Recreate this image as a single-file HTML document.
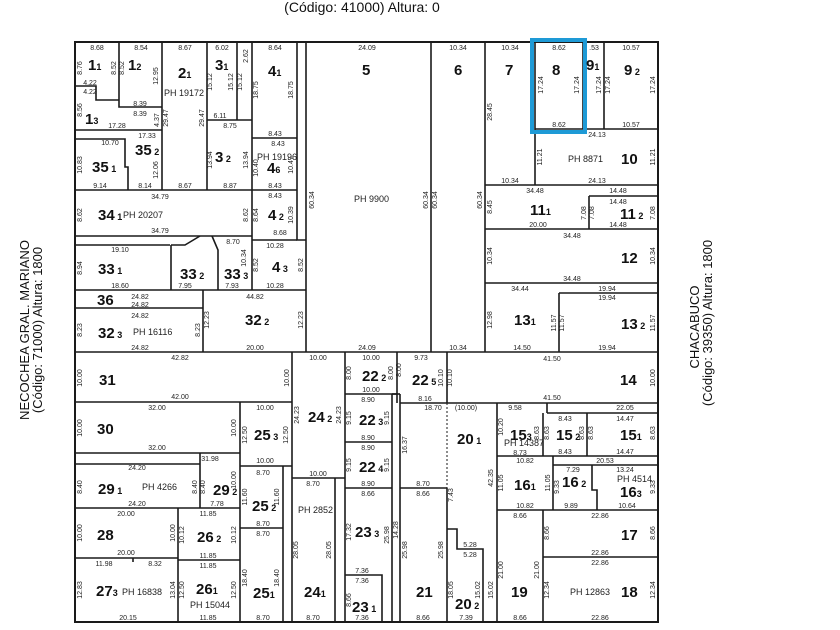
<!DOCTYPE html>
<html><head><meta charset="utf-8"><style>
html,body{margin:0;padding:0;background:#fff;width:840px;height:630px;overflow:hidden}
svg{display:block}
.l{stroke:#1a1a1a;stroke-width:1.6;fill:none}
.b{font-family:"Liberation Sans Narrow","Liberation Sans",sans-serif;font-weight:bold;font-size:15px;fill:#111}
.s{font-size:9px}
.d{font-family:"Liberation Sans Narrow","Liberation Sans",sans-serif;font-size:7px;fill:#222}
.p{font-family:"Liberation Sans Narrow","Liberation Sans",sans-serif;font-size:9px;fill:#222}
.t{font-family:"Liberation Sans Narrow","Liberation Sans",sans-serif;font-size:14px;fill:#111}
.side{font-family:"Liberation Sans",sans-serif;font-size:13px;fill:#111}
</style></head><body>
<svg width="840" height="630" viewBox="0 0 840 630" xmlns="http://www.w3.org/2000/svg">
<text class="t" x="362" y="12" text-anchor="middle">(Código: 41000) Altura: 0</text>
<text class="side" transform="translate(29,330) rotate(-90)" text-anchor="middle">NECOCHEA GRAL. MARIANO</text>
<text class="side" transform="translate(42,330) rotate(-90)" text-anchor="middle">(Código: 71000) Altura: 1800</text>
<text class="side" transform="translate(699,327) rotate(-90)" text-anchor="middle">CHACABUCO</text>
<text class="side" transform="translate(712,323) rotate(-90)" text-anchor="middle">(Código: 39350) Altura: 1800</text>

<g class="l">
<rect x="75" y="42" width="583" height="580" stroke-width="2"/>
<!-- top-left block -->
<path d="M119 42V107H162"/>
<path d="M75 86H96V100H119"/>
<path d="M75 130H162"/>
<path d="M162 42V190"/>
<path d="M207 42V190"/>
<path d="M237 42V120"/>
<path d="M207 120H252"/>
<path d="M252 42V290"/>
<path d="M252 138H297"/>
<path d="M297 42V240H306"/>
<path d="M75 139H125V167H128V190"/>
<path d="M75 190H297"/>
<path d="M75 236H212"/>
<path d="M212 236H252"/>
<path d="M75 245H170"/>
<path d="M171 245V290"/>
<path d="M171 245H185L200 236"/>
<path d="M212 236L218 250V290"/>
<path d="M252 240H297"/>
<path d="M75 290H306"/>
<path d="M75 308H203"/>
<path d="M203 290V352"/>
<path d="M306 42V352"/>
<path d="M431 42V352"/>
<path d="M485 42V352"/>
<path d="M535 42V185"/>
<path d="M583 42V129"/>
<path d="M604 42V129"/>
<path d="M535 129H658"/>
<path d="M485 185H658"/>
<path d="M589 196V229"/>
<path d="M589 196H658"/>
<path d="M485 229H658"/>
<path d="M485 283H658"/>
<path d="M559 293V352"/>
<path d="M559 293H658"/>
<path d="M75 352H658"/>
<!-- bottom-left -->
<path d="M75 402H292"/>
<path d="M292 352V622"/>
<path d="M345 352V622"/>
<path d="M292 478H345"/>
<path d="M335 478V622"/>
<path d="M240 402V622"/>
<path d="M75 453H240"/>
<path d="M240 466H292"/>
<path d="M75 464H200"/>
<path d="M200 453V508"/>
<path d="M75 508H240"/>
<path d="M283 466V622"/>
<path d="M240 528H283"/>
<path d="M178 508V622"/>
<path d="M75 558H178"/>
<path d="M178 560H240"/>
<path d="M133 558V562"/>
<!-- bottom-right -->
<path d="M345 394H397"/>
<path d="M397 352V403"/>
<path d="M392 394V622"/>
<path d="M400 394V622"/>
<path d="M392 394H400"/>
<path d="M400 403H658"/>
<path d="M447 352V403"/>
<path d="M345 442H392"/>
<path d="M345 488H392"/>
<path d="M345 575H382V622"/>
<path d="M400 488H447"/>
<path d="M447 488V622"/>
<path d="M447 529H457V549H483V622"/>
<path d="M497 403V622"/>
<path d="M547 403V413"/>
<path d="M547 413H658"/>
<path d="M543 413V456"/>
<path d="M587 413V456"/>
<path d="M497 456H658"/>
<path d="M553 456V510"/>
<path d="M553 465H658"/>
<path d="M592 465V490H597V510"/>
<path d="M497 510H658"/>
<path d="M543 510V622"/>
<path d="M543 557H658"/>
</g>
<path d="M447 403V488" stroke="#1a1a1a" stroke-width="1" stroke-dasharray="2,2" fill="none"/>
<rect x="532" y="40" width="53" height="92" fill="none" stroke="#1e9ad6" stroke-width="4"/>

<!-- lot labels -->
<g class="b">
<text x="88" y="70">1<tspan class="s">1</tspan></text>
<text x="128" y="70">1<tspan class="s">2</tspan></text>
<text x="178" y="78">2<tspan class="s">1</tspan></text>
<text x="215" y="70">3<tspan class="s">1</tspan></text>
<text x="268" y="76">4<tspan class="s">1</tspan></text>
<text x="85" y="124">1<tspan class="s">3</tspan></text>
<text x="92" y="172">35<tspan class="s"> 1</tspan></text>
<text x="135" y="155">35<tspan class="s"> 2</tspan></text>
<text x="215" y="162">3<tspan class="s"> 2</tspan></text>
<text x="267" y="173">4<tspan class="s">6</tspan></text>
<text x="98" y="220">34<tspan class="s"> 1</tspan></text>
<text x="268" y="220">4<tspan class="s"> 2</tspan></text>
<text x="98" y="274">33<tspan class="s"> 1</tspan></text>
<text x="180" y="279">33<tspan class="s"> 2</tspan></text>
<text x="224" y="279">33<tspan class="s"> 3</tspan></text>
<text x="272" y="272">4<tspan class="s"> 3</tspan></text>
<text x="97" y="305">36</text>
<text x="98" y="338">32<tspan class="s"> 3</tspan></text>
<text x="245" y="325">32<tspan class="s"> 2</tspan></text>
<text x="362" y="75">5</text>
<text x="454" y="75">6</text>
<text x="505" y="75">7</text>
<text x="552" y="75">8</text>
<text x="586" y="70">9<tspan class="s">1</tspan></text>
<text x="624" y="75">9<tspan class="s"> 2</tspan></text>
<text x="621" y="164">10</text>
<text x="530" y="215">11<tspan class="s">1</tspan></text>
<text x="620" y="219">11<tspan class="s"> 2</tspan></text>
<text x="621" y="263">12</text>
<text x="514" y="325">13<tspan class="s">1</tspan></text>
<text x="621" y="329">13<tspan class="s"> 2</tspan></text>
<text x="99" y="385">31</text>
<text x="97" y="434">30</text>
<text x="254" y="440">25<tspan class="s"> 3</tspan></text>
<text x="308" y="422">24<tspan class="s"> 2</tspan></text>
<text x="98" y="494">29<tspan class="s"> 1</tspan></text>
<text x="213" y="495">29<tspan class="s"> 2</tspan></text>
<text x="252" y="511">25<tspan class="s"> 2</tspan></text>
<text x="97" y="540">28</text>
<text x="197" y="542">26<tspan class="s"> 2</tspan></text>
<text x="96" y="596">27<tspan class="s">3</tspan></text>
<text x="196" y="594">26<tspan class="s">1</tspan></text>
<text x="253" y="598">25<tspan class="s">1</tspan></text>
<text x="304" y="597">24<tspan class="s">1</tspan></text>
<text x="362" y="381">22<tspan class="s"> 2</tspan></text>
<text x="412" y="385">22<tspan class="s"> 5</tspan></text>
<text x="620" y="385">14</text>
<text x="359" y="425">22<tspan class="s"> 3</tspan></text>
<text x="359" y="472">22<tspan class="s"> 4</tspan></text>
<text x="355" y="537">23<tspan class="s"> 3</tspan></text>
<text x="352" y="612">23<tspan class="s"> 1</tspan></text>
<text x="457" y="444">20<tspan class="s"> 1</tspan></text>
<text x="510" y="440">15<tspan class="s">3</tspan></text>
<text x="556" y="440">15<tspan class="s"> 2</tspan></text>
<text x="620" y="440">15<tspan class="s">1</tspan></text>
<text x="514" y="490">16<tspan class="s">1</tspan></text>
<text x="562" y="487">16<tspan class="s"> 2</tspan></text>
<text x="620" y="497">16<tspan class="s">3</tspan></text>
<text x="621" y="540">17</text>
<text x="416" y="597">21</text>
<text x="455" y="609">20<tspan class="s"> 2</tspan></text>
<text x="511" y="597">19</text>
<text x="621" y="597">18</text>
</g>

<!-- PH labels -->
<g class="p">
<text x="164" y="96">PH 19172</text>
<text x="257" y="160">PH 19196</text>
<text x="123" y="218">PH 20207</text>
<text x="133" y="335">PH 16116</text>
<text x="354" y="202">PH 9900</text>
<text x="568" y="162">PH 8871</text>
<text x="142" y="490">PH 4266</text>
<text x="298" y="513">PH 2852</text>
<text x="122" y="595">PH 16838</text>
<text x="190" y="608">PH 15044</text>
<text x="504" y="446">PH 14387</text>
<text x="617" y="482">PH 4514</text>
<text x="570" y="595">PH 12863</text>
</g>

<!-- dimensions (horizontal) -->
<g class="d" text-anchor="middle">
<text x="97" y="50">8.68</text><text x="141" y="50">8.54</text><text x="185" y="50">8.67</text><text x="222" y="50">6.02</text><text x="275" y="50">8.64</text>
<text x="367" y="50">24.09</text><text x="458" y="50">10.34</text><text x="510" y="50">10.34</text><text x="559" y="50">8.62</text><text x="594" y="50">.53</text><text x="631" y="50">10.57</text>
<text x="140" y="106">8.39</text><text x="140" y="116">8.39</text><text x="117" y="128">17.28</text><text x="90" y="85">4.22</text><text x="90" y="94">4.22</text>
<text x="220" y="118">6.11</text><text x="230" y="128">8.75</text><text x="275" y="136">8.43</text><text x="278" y="146">8.43</text>
<text x="110" y="145">10.70</text><text x="147" y="138">17.33</text><text x="100" y="188">9.14</text><text x="145" y="188">8.14</text><text x="185" y="188">8.67</text><text x="230" y="188">8.87</text><text x="275" y="188">8.43</text><text x="275" y="198">8.43</text>
<text x="160" y="199">34.79</text><text x="160" y="233">34.79</text><text x="280" y="235">8.68</text>
<text x="120" y="252">19.10</text><text x="120" y="288">18.60</text><text x="185" y="288">7.95</text><text x="232" y="288">7.93</text><text x="233" y="244">8.70</text><text x="275" y="248">10.28</text><text x="275" y="288">10.28</text>
<text x="140" y="299">24.82</text><text x="140" y="307">24.82</text><text x="140" y="318">24.82</text><text x="140" y="350">24.82</text><text x="255" y="299">44.82</text><text x="255" y="350">20.00</text>
<text x="367" y="350">24.09</text><text x="458" y="350">10.34</text><text x="510" y="183">10.34</text><text x="559" y="127">8.62</text><text x="631" y="127">10.57</text><text x="597" y="137">24.13</text><text x="597" y="183">24.13</text>
<text x="535" y="193">34.48</text><text x="538" y="227">20.00</text><text x="618" y="193">14.48</text><text x="618" y="204">14.48</text><text x="618" y="227">14.48</text>
<text x="572" y="238">34.48</text><text x="572" y="281">34.48</text><text x="520" y="291">34.44</text><text x="522" y="350">14.50</text><text x="607" y="291">19.94</text><text x="607" y="300">19.94</text><text x="607" y="350">19.94</text>
<text x="180" y="360">42.82</text><text x="180" y="399">42.00</text><text x="157" y="410">32.00</text><text x="157" y="450">32.00</text><text x="265" y="410">10.00</text><text x="265" y="463">10.00</text>
<text x="318" y="360">10.00</text><text x="318" y="476">10.00</text><text x="371" y="360">10.00</text><text x="371" y="392">10.00</text><text x="421" y="360">9.73</text><text x="425" y="401">8.16</text>
<text x="552" y="361">41.50</text><text x="552" y="400">41.50</text>
<text x="137" y="470">24.20</text><text x="137" y="506">24.20</text><text x="217" y="506">7.78</text><text x="210" y="461">31.98</text>
<text x="263" y="475">8.70</text><text x="263" y="526">8.70</text><text x="263" y="536">8.70</text><text x="263" y="620">8.70</text>
<text x="126" y="516">20.00</text><text x="126" y="555">20.00</text><text x="208" y="516">11.85</text><text x="208" y="558">11.85</text><text x="208" y="568">11.85</text><text x="208" y="620">11.85</text>
<text x="104" y="566">11.98</text><text x="155" y="566">8.32</text><text x="128" y="620">20.15</text><text x="313" y="486">8.70</text><text x="313" y="620">8.70</text>
<text x="368" y="402">8.90</text><text x="368" y="440">8.90</text><text x="368" y="450">8.90</text><text x="368" y="486">8.90</text><text x="368" y="496">8.66</text><text x="362" y="573">7.36</text><text x="362" y="583">7.36</text><text x="362" y="620">7.36</text>
<text x="433" y="410">18.70</text><text x="423" y="486">8.70</text><text x="423" y="496">8.66</text><text x="423" y="620">8.66</text><text x="466" y="410">(10.00)</text><text x="470" y="547">5.28</text><text x="470" y="557">5.28</text><text x="466" y="620">7.39</text>
<text x="515" y="410">9.58</text><text x="520" y="455">8.73</text><text x="565" y="421">8.43</text><text x="565" y="454">8.43</text><text x="625" y="410">22.05</text><text x="625" y="421">14.47</text><text x="625" y="454">14.47</text>
<text x="525" y="463">10.82</text><text x="525" y="508">10.82</text><text x="573" y="472">7.29</text><text x="571" y="508">9.89</text><text x="605" y="463">20.53</text><text x="625" y="472">13.24</text><text x="627" y="508">10.64</text>
<text x="520" y="518">8.66</text><text x="520" y="620">8.66</text><text x="600" y="518">22.86</text><text x="600" y="555">22.86</text><text x="600" y="565">22.86</text><text x="600" y="620">22.86</text>
</g>
<!-- dimensions (vertical) -->
<g class="d" text-anchor="middle">
<text transform="translate(82,68) rotate(-90)">8.76</text><text transform="translate(116,68) rotate(-90)">8.52</text><text transform="translate(124,68) rotate(-90)">8.52</text><text transform="translate(158,76) rotate(-90)">12.95</text>
<text transform="translate(82,110) rotate(-90)">8.56</text><text transform="translate(159,120) rotate(-90)">4.37</text><text transform="translate(168,118) rotate(-90)">29.47</text><text transform="translate(204,118) rotate(-90)">29.47</text>
<text transform="translate(212,82) rotate(-90)">15.12</text><text transform="translate(233,82) rotate(-90)">15.12</text><text transform="translate(242,82) rotate(-90)">15.12</text><text transform="translate(248,56) rotate(-90)">2.62</text>
<text transform="translate(258,90) rotate(-90)">18.75</text><text transform="translate(293,90) rotate(-90)">18.75</text><text transform="translate(258,168) rotate(-90)">10.40</text><text transform="translate(293,165) rotate(-90)">10.47</text>
<text transform="translate(82,165) rotate(-90)">10.83</text><text transform="translate(158,170) rotate(-90)">12.06</text><text transform="translate(212,160) rotate(-90)">13.94</text><text transform="translate(248,160) rotate(-90)">13.94</text>
<text transform="translate(82,215) rotate(-90)">8.62</text><text transform="translate(248,215) rotate(-90)">8.62</text><text transform="translate(258,215) rotate(-90)">8.64</text><text transform="translate(293,215) rotate(-90)">10.39</text>
<text transform="translate(82,268) rotate(-90)">8.94</text><text transform="translate(246,258) rotate(-90)">10.34</text><text transform="translate(258,265) rotate(-90)">8.52</text><text transform="translate(303,265) rotate(-90)">8.52</text>
<text transform="translate(82,330) rotate(-90)">8.23</text><text transform="translate(200,330) rotate(-90)">8.23</text><text transform="translate(209,320) rotate(-90)">12.23</text><text transform="translate(303,320) rotate(-90)">12.23</text>
<text transform="translate(314,200) rotate(-90)">60.34</text><text transform="translate(428,200) rotate(-90)">60.34</text><text transform="translate(437,200) rotate(-90)">60.34</text><text transform="translate(482,200) rotate(-90)">60.34</text>
<text transform="translate(492,112) rotate(-90)">28.45</text><text transform="translate(543,85) rotate(-90)">17.24</text><text transform="translate(579,85) rotate(-90)">17.24</text><text transform="translate(601,85) rotate(-90)">17.24</text><text transform="translate(610,85) rotate(-90)">17.24</text><text transform="translate(655,85) rotate(-90)">17.24</text>
<text transform="translate(542,157) rotate(-90)">11.21</text><text transform="translate(655,157) rotate(-90)">11.21</text><text transform="translate(492,207) rotate(-90)">8.45</text><text transform="translate(586,213) rotate(-90)">7.08</text><text transform="translate(594,213) rotate(-90)">7.08</text><text transform="translate(655,213) rotate(-90)">7.08</text>
<text transform="translate(492,256) rotate(-90)">10.34</text><text transform="translate(655,256) rotate(-90)">10.34</text><text transform="translate(492,320) rotate(-90)">12.98</text><text transform="translate(556,323) rotate(-90)">11.57</text><text transform="translate(564,323) rotate(-90)">11.57</text><text transform="translate(655,323) rotate(-90)">11.57</text>
<text transform="translate(82,378) rotate(-90)">10.00</text><text transform="translate(289,378) rotate(-90)">10.00</text><text transform="translate(82,428) rotate(-90)">10.00</text><text transform="translate(236,428) rotate(-90)">10.00</text>
<text transform="translate(247,435) rotate(-90)">12.50</text><text transform="translate(288,435) rotate(-90)">12.50</text><text transform="translate(299,415) rotate(-90)">24.23</text><text transform="translate(341,415) rotate(-90)">24.23</text>
<text transform="translate(82,487) rotate(-90)">8.40</text><text transform="translate(197,487) rotate(-90)">8.40</text><text transform="translate(205,487) rotate(-90)">8.40</text><text transform="translate(236,480) rotate(-90)">10.00</text>
<text transform="translate(247,497) rotate(-90)">11.60</text><text transform="translate(279,497) rotate(-90)">11.60</text><text transform="translate(82,533) rotate(-90)">10.00</text><text transform="translate(175,533) rotate(-90)">10.00</text><text transform="translate(184,535) rotate(-90)">10.12</text><text transform="translate(236,535) rotate(-90)">10.12</text>
<text transform="translate(82,590) rotate(-90)">12.83</text><text transform="translate(175,590) rotate(-90)">13.04</text><text transform="translate(184,590) rotate(-90)">12.50</text><text transform="translate(236,590) rotate(-90)">12.50</text><text transform="translate(247,578) rotate(-90)">18.40</text><text transform="translate(279,578) rotate(-90)">18.40</text>
<text transform="translate(298,550) rotate(-90)">28.05</text><text transform="translate(331,550) rotate(-90)">28.05</text>
<text transform="translate(351,373) rotate(-90)">8.00</text><text transform="translate(393,373) rotate(-90)">8.00</text><text transform="translate(401,370) rotate(-90)">8.00</text><text transform="translate(443,378) rotate(-90)">10.10</text><text transform="translate(452,378) rotate(-90)">10.10</text><text transform="translate(655,378) rotate(-90)">10.00</text>
<text transform="translate(351,418) rotate(-90)">9.15</text><text transform="translate(389,418) rotate(-90)">9.15</text><text transform="translate(351,465) rotate(-90)">9.15</text><text transform="translate(389,465) rotate(-90)">9.15</text>
<text transform="translate(351,532) rotate(-90)">17.32</text><text transform="translate(389,535) rotate(-90)">25.98</text><text transform="translate(398,530) rotate(-90)">14.28</text><text transform="translate(351,600) rotate(-90)">8.66</text>
<text transform="translate(407,445) rotate(-90)">16.37</text><text transform="translate(407,550) rotate(-90)">25.98</text><text transform="translate(443,550) rotate(-90)">25.98</text><text transform="translate(453,495) rotate(-90)">7.43</text><text transform="translate(493,478) rotate(-90)">42.35</text>
<text transform="translate(453,590) rotate(-90)">18.05</text><text transform="translate(480,590) rotate(-90)">15.02</text><text transform="translate(493,590) rotate(-90)">15.02</text>
<text transform="translate(503,427) rotate(-90)">10.20</text><text transform="translate(539,433) rotate(-90)">8.63</text><text transform="translate(549,433) rotate(-90)">8.63</text><text transform="translate(584,433) rotate(-90)">8.63</text><text transform="translate(593,433) rotate(-90)">8.63</text><text transform="translate(655,433) rotate(-90)">8.63</text>
<text transform="translate(503,483) rotate(-90)">11.05</text><text transform="translate(550,483) rotate(-90)">11.05</text><text transform="translate(559,487) rotate(-90)">9.33</text><text transform="translate(655,487) rotate(-90)">9.33</text>
<text transform="translate(503,570) rotate(-90)">21.00</text><text transform="translate(539,570) rotate(-90)">21.00</text><text transform="translate(549,533) rotate(-90)">8.66</text><text transform="translate(655,533) rotate(-90)">8.66</text><text transform="translate(549,590) rotate(-90)">12.34</text><text transform="translate(655,590) rotate(-90)">12.34</text>
</g>
</svg>
</body></html>
